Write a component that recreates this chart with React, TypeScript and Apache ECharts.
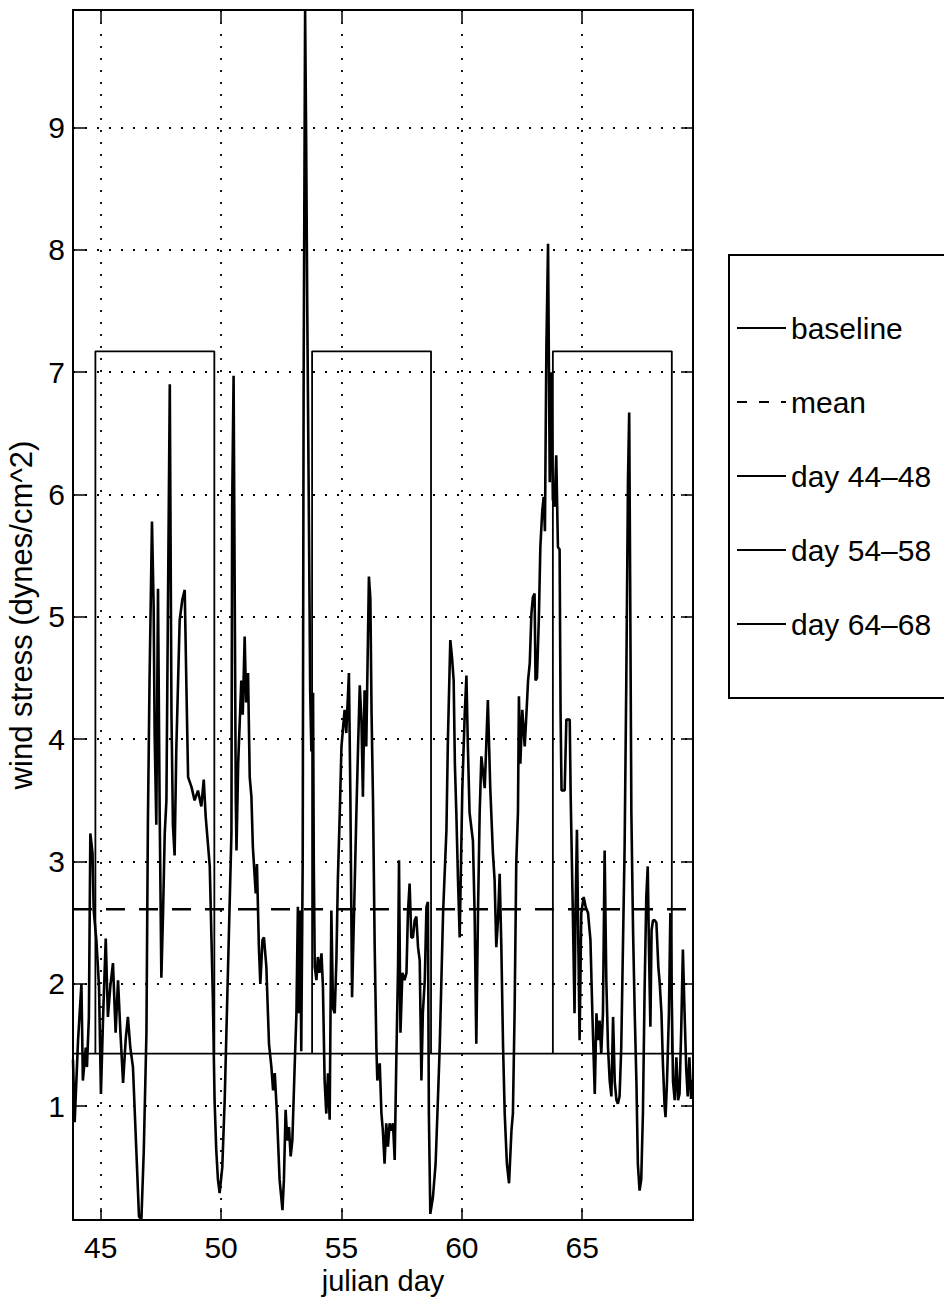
import React, { useEffect, useRef } from "react";
import * as echarts from "echarts";

// ---- data ----
const windDays = [
  43.85, 43.92, 44.06, 44.2, 44.26, 44.38, 44.43, 44.51, 44.57, 44.66, 44.71, 44.82, 44.93, 45.01,
  45.1, 45.21, 45.3, 45.4, 45.51, 45.62, 45.72, 45.82, 45.93, 46.04, 46.13, 46.23, 46.34, 46.48,
  46.59, 46.69, 46.79, 46.9, 46.96, 47.03, 47.13, 47.2, 47.24, 47.31, 47.38, 47.45, 47.52, 47.59,
  47.66, 47.73, 47.79, 47.87, 47.94, 48.0, 48.07, 48.14, 48.28, 48.39, 48.49, 48.56, 48.63, 48.77,
  48.9, 49.04, 49.18, 49.28, 49.36, 49.53, 49.66, 49.73, 49.8, 49.87, 49.94, 50.05, 50.15, 50.29,
  50.43, 50.46, 50.52, 50.61, 50.64, 50.71, 50.84, 50.9, 50.98, 51.04, 51.12, 51.19, 51.26, 51.32,
  51.44, 51.49, 51.57, 51.63, 51.72, 51.78, 51.88, 51.99, 52.09, 52.16, 52.23, 52.32, 52.43, 52.55,
  52.61, 52.68, 52.75, 52.82, 52.89, 52.96, 53.06, 53.13, 53.19, 53.24, 53.29, 53.33, 53.39, 53.43,
  53.49, 53.53, 53.58, 53.64, 53.7, 53.75, 53.82, 53.85, 53.89, 53.96, 54.02, 54.09, 54.17, 54.23,
  54.3, 54.37, 54.44, 54.51, 54.58, 54.65, 54.72, 54.79, 54.85, 54.93, 55.0, 55.13, 55.2, 55.31,
  55.37, 55.44, 55.62, 55.69, 55.76, 55.83, 55.89, 55.96, 56.03, 56.14, 56.2, 56.25, 56.31, 56.38,
  56.45, 56.49, 56.59, 56.66, 56.72, 56.79, 56.86, 56.93, 57.0, 57.07, 57.14, 57.21, 57.28, 57.35,
  57.39, 57.45, 57.53, 57.62, 57.7, 57.76, 57.83, 57.9, 57.97, 58.04, 58.11, 58.18, 58.25, 58.32,
  58.38, 58.46, 58.53, 58.59, 58.63, 58.69, 58.8, 58.91, 59.01, 59.08, 59.15, 59.22, 59.36, 59.42,
  59.52, 59.59, 59.66, 59.71, 59.77, 59.84, 59.91, 60.02, 60.12, 60.19, 60.25, 60.32, 60.46, 60.53,
  60.6, 60.67, 60.74, 60.81, 60.95, 61.08, 61.18, 61.29, 61.36, 61.43, 61.5, 61.57, 61.64, 61.71,
  61.78, 61.87, 61.96, 62.06, 62.12, 62.19, 62.26, 62.33, 62.37, 62.43, 62.51, 62.61, 62.68, 62.75,
  62.82, 62.89, 62.95, 63.02, 63.06, 63.12, 63.2, 63.26, 63.34, 63.4, 63.45, 63.51, 63.58, 63.65,
  63.71, 63.78, 63.85, 63.92, 63.99, 64.06, 64.1, 64.14, 64.27, 64.34, 64.48, 64.52, 64.61, 64.68,
  64.72, 64.78, 64.84, 64.89, 64.96, 65.06, 65.14, 65.24, 65.34, 65.42, 65.52, 65.59, 65.65, 65.72,
  65.79, 65.86, 65.93, 66.0, 66.07, 66.14, 66.21, 66.28, 66.35, 66.42, 66.48, 66.55, 66.62, 66.69,
  66.76, 66.83, 66.9, 66.95, 66.99, 67.04, 67.11, 67.18, 67.25, 67.31, 67.38, 67.45, 67.52, 67.59,
  67.66, 67.72, 67.77, 67.83, 67.88, 67.94, 68.01, 68.08, 68.16, 68.22, 68.29, 68.35, 68.42, 68.46,
  68.52, 68.6, 68.66, 68.71, 68.77, 68.84, 68.91, 68.98, 69.04, 69.11, 69.18, 69.25, 69.32, 69.38,
  69.45, 69.52, 69.59,
];

const windStress = [
  1.38, 0.87, 1.54, 2.0, 1.21, 1.48, 1.32, 1.73, 3.23, 3.07, 2.6, 2.36, 1.98, 1.1,
  1.73, 2.37, 1.73, 1.98, 2.17, 1.6, 2.03, 1.6, 1.19, 1.55, 1.73, 1.48, 1.32, 0.64,
  0.1, 0.07, 0.64, 1.6, 3.3, 4.5, 5.78, 5.08, 4.05, 3.3, 5.23, 3.4, 2.05, 2.58,
  3.23, 3.5, 5.0, 6.9, 4.2, 3.3, 3.05, 3.91, 4.97, 5.14, 5.22, 4.43, 3.69, 3.61,
  3.5, 3.58, 3.45, 3.67, 3.37, 2.96, 1.87, 1.05, 0.64, 0.4, 0.29, 0.5, 1.05, 2.14,
  3.23, 5.9, 6.97, 3.53, 3.09, 3.8, 4.48, 4.2, 4.84, 4.3, 4.54, 3.69, 3.53, 3.12,
  2.74, 2.98, 2.3, 2.0, 2.36, 2.38, 2.14, 1.51, 1.32, 1.13, 1.27, 0.94, 0.4, 0.15,
  0.4, 0.97, 0.72, 0.83, 0.59, 0.72, 1.35, 1.76, 2.63, 1.76, 2.6, 1.45, 3.0, 7.0,
  9.96, 9.0, 7.5, 6.0, 4.4, 3.9, 4.38, 3.0, 2.14, 2.03, 2.22, 2.09, 2.25, 1.98,
  1.21, 0.94, 1.27, 0.89, 2.6, 1.8, 1.76, 2.2, 2.85, 3.4, 3.94, 4.24, 4.05, 4.54,
  3.53, 1.89, 3.4, 3.94, 4.44, 4.16, 3.53, 4.4, 3.94, 5.33, 5.15, 4.21, 3.5, 2.3,
  1.48, 1.21, 1.35, 0.94, 0.8, 0.53, 0.86, 0.67, 0.86, 0.8, 0.86, 0.56, 1.4, 2.14,
  3.01, 1.6, 2.09, 2.03, 2.09, 2.58, 2.82, 2.38, 2.38, 2.52, 2.55, 2.3, 2.19, 1.21,
  1.76, 2.03, 2.63, 2.67, 0.94, 0.12, 0.26, 0.53, 1.08, 1.48, 2.03, 2.58, 3.26, 3.99,
  4.81, 4.67, 4.48, 3.8, 3.4, 2.85, 2.38, 3.6, 4.21, 4.52, 3.94, 3.4, 3.17, 2.58,
  1.51, 2.58, 3.4, 3.86, 3.6, 4.32, 3.6, 3.07, 2.85, 2.3, 2.52, 2.9, 2.3, 1.5,
  0.94, 0.53, 0.37, 0.8, 0.94, 1.76, 2.99, 3.4, 4.35, 3.8, 4.24, 3.94, 4.2, 4.48,
  4.62, 5.03, 5.16, 5.19, 4.48, 4.5, 5.0, 5.57, 5.87, 5.98, 5.7, 7.2, 8.05, 6.1,
  7.0, 5.96, 5.9, 6.32, 5.57, 5.55, 4.21, 3.58, 3.58, 4.16, 4.16, 3.53, 2.58, 1.76,
  2.58, 3.26, 2.3, 1.54, 2.58, 2.71, 2.63, 2.58, 2.36, 1.76, 1.1, 1.76, 1.54, 1.7,
  1.43, 1.76, 3.09, 2.03, 1.48, 1.21, 1.08, 1.73, 1.2, 1.05, 1.02, 1.08, 1.48, 2.3,
  3.12, 4.48, 6.12, 6.67, 5.3, 3.4, 2.44, 1.76, 1.2, 0.53, 0.31, 0.4, 0.94, 1.95,
  2.71, 2.96, 2.3, 1.65, 2.44, 2.52, 2.52, 2.5, 2.14, 2.0, 1.76, 1.35, 1.0, 0.91,
  1.2, 1.76, 2.58, 2.0, 1.2, 1.05, 1.4, 1.05, 1.1, 1.62, 2.28, 1.76, 1.3, 1.08,
  1.4, 1.06, 1.22,
];

const baselineValue = 1.43;
const meanValue = 2.61;
const boxTop = 7.17;
const boxStarts = [44.78, 53.78, 63.78];
const boxEnds = [49.72, 58.72, 68.72];
const boxNames = ["day 44\u201348", "day 54\u201358", "day 64\u201368"];
const dayRange = [43.85, 69.6];
const stressRange = [0.07, 9.96];
const legendNames = ["baseline", "mean", ...boxNames];

const FONT = "'Liberation Sans', Arial, Helvetica, sans-serif";

export default function App() {
  const ref = useRef<HTMLDivElement>(null);

  useEffect(() => {
    if (!ref.current) return;
    const chart = echarts.init(ref.current, null, { renderer: "svg" });

    const windData = windDays.map((d, i) => [d, windStress[i]]);
    const boxSeries = boxNames.map((name, i) => ({
      name,
      type: "line",
      data: [
        [boxStarts[i], baselineValue],
        [boxStarts[i], boxTop],
        [boxEnds[i], boxTop],
        [boxEnds[i], baselineValue],
      ],
      showSymbol: false,
      symbol: "none",
      lineStyle: { color: "#000", width: 1.8 },
      itemStyle: { color: "#000" },
      z: 3,
    }));

    const intLabel = (v: number) =>
      Math.abs(v - Math.round(v)) < 1e-6 ? String(Math.round(v)) : "";

    const tickStyle = { inside: true, length: 12, lineStyle: { color: "#000", width: 1.5 } };
    const axisLine = { show: true, onZero: false, lineStyle: { color: "#000", width: 2 } };
    const gridLine = { show: true, lineStyle: { color: "#000", width: 1.8, type: [2, 10] } };

    chart.setOption({
      animation: false,
      backgroundColor: "#fff",
      textStyle: { fontFamily: FONT, color: "#000" },
      grid: {
        left: 73,
        right: 251,
        top: 10,
        bottom: 80,
        containLabel: false,
        outerBoundsMode: "none",
      },
      legend: {
        data: legendNames.map((n) =>
          n === "mean" ? { name: n, lineStyle: { type: [10, 12] } } : { name: n }
        ),
        orient: "vertical",
        left: 729,
        top: 255,
        itemWidth: 49,
        itemHeight: 14,
        itemGap: 44,
        padding: [58, 60, 59, 7],
        borderColor: "#000",
        borderWidth: 2,
        backgroundColor: "#fff",
        selectedMode: false,
        itemStyle: { color: "rgba(0,0,0,0)", opacity: 0, borderWidth: 0 },
        textStyle: { fontSize: 30, fontFamily: FONT, color: "#000" },
      },
      xAxis: [
        {
          type: "value",
          min: dayRange[0],
          max: dayRange[1],
          splitNumber: 5,
          name: "julian day",
          nameLocation: "middle",
          nameGap: 44,
          nameTextStyle: { fontSize: 29, fontFamily: FONT, color: "#000" },
          axisLine,
          axisTick: tickStyle,
          axisLabel: { formatter: intLabel, fontSize: 30, fontFamily: FONT, color: "#000", margin: 12 },
          splitLine: gridLine,
        },
        {
          type: "value",
          position: "top",
          min: dayRange[0],
          max: dayRange[1],
          splitNumber: 5,
          axisLine,
          axisTick: tickStyle,
          axisLabel: { show: false },
          splitLine: { show: false },
        },
      ],
      yAxis: [
        {
          type: "value",
          min: stressRange[0],
          max: stressRange[1],
          splitNumber: 9,
          name: "wind stress (dynes/cm^2)",
          nameLocation: "middle",
          nameGap: 30,
          nameTextStyle: { fontSize: 31, fontFamily: FONT, color: "#000" },
          axisLine,
          axisTick: tickStyle,
          axisLabel: { formatter: intLabel, fontSize: 30, fontFamily: FONT, color: "#000", margin: 8 },
          splitLine: gridLine,
        },
        {
          type: "value",
          position: "right",
          min: stressRange[0],
          max: stressRange[1],
          splitNumber: 9,
          axisLine,
          axisTick: tickStyle,
          axisLabel: { show: false },
          splitLine: { show: false },
        },
      ],
      series: [
        {
          name: "wind stress",
          type: "line",
          data: windData,
          showSymbol: false,
          symbol: "none",
          lineStyle: { color: "#000", width: 2.6 },
          itemStyle: { color: "#000" },
          z: 4,
        },
        {
          name: "baseline",
          type: "line",
          data: [
            [dayRange[0], baselineValue],
            [dayRange[1], baselineValue],
          ],
          showSymbol: false,
          symbol: "none",
          lineStyle: { color: "#000", width: 1.6 },
          itemStyle: { color: "#000" },
          z: 3,
        },
        {
          name: "mean",
          type: "line",
          data: [
            [dayRange[0], meanValue],
            [dayRange[1], meanValue],
          ],
          showSymbol: false,
          symbol: "none",
          lineStyle: { color: "#000", width: 2.6, type: [19, 14] },
          itemStyle: { color: "#000" },
          z: 3,
        },
        ...boxSeries,
      ],
    });

    return () => chart.dispose();
  }, []);

  return (
    <div
      ref={ref}
      style={{ position: "absolute", left: 0, top: 0, width: 944, height: 1300, background: "#fff" }}
    />
  );
}
